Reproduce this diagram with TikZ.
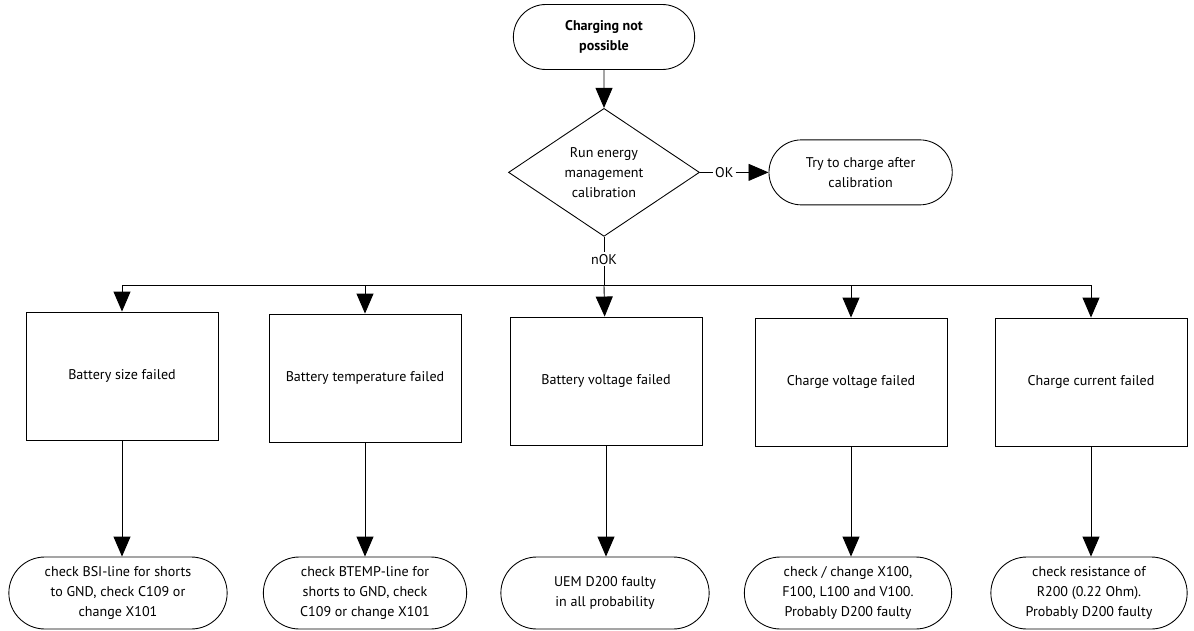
\documentclass[tikz,border=0pt]{standalone}
\usepackage{fontspec}
\setmainfont{PT Sans}
\usetikzlibrary{arrows.meta,positioning,shapes.geometric,shapes.misc}

\begin{document}
\begin{tikzpicture}[node distance=0.8cm, font=\fontsize{8}{11.5}\selectfont, line width=0.5pt,
        >={Triangle[width=0.34cm,length=0.4cm]}]
        \tikzstyle{term}=[draw, rounded rectangle, align=center, minimum height=1.3cm]
        \tikzstyle{decide}=[draw, diamond, aspect=1.5, inner sep=0pt, minimum width=3.82cm, minimum height=2.56cm, align=center]
        \tikzstyle{check}=[draw, rectangle, minimum width=3.84cm, minimum height=2.56cm, align=center]
        \tikzstyle{fix}=[draw, rounded rectangle, align=center, minimum height=1.44cm]
        \tikzstyle{lbl}=[inner sep=1pt]

        \useasboundingbox (0,0) rectangle (23.88,-12.62);

        \node[term, minimum width=3.86cm, font=\fontsize{8}{11.5}\selectfont\bfseries] (start) at (12.08,-0.74) {Charging not\\possible};
        \node[decide] (cal) [below=0.76cm of start] {Run energy\\management\\calibration};
        \node[lbl] (ok) [right=0.26cm of cal] {OK};
        \node[term, minimum width=3.9cm] (try) [right=0.66cm of ok] {Try to charge after\\calibration};
        \node[lbl] (nok) [below=0.3cm of cal] {nOK};
        \coordinate (bus) at (cal |- 0,-5.70);

        \node[check] (b1) at (2.44,-7.52) {Battery size failed};
        \node[check] (b2) at (7.30,-7.56) {Battery temperature failed};
        \node[check] (b3) at (12.12,-7.62) {Battery voltage failed};
        \node[check] (b4) at (17.02,-7.64) {Charge voltage failed};
        \node[check] (b5) at (21.82,-7.64) {Charge current failed};

        \node[fix, minimum width=4.6cm] (f1) at (2.36,-11.86) {check BSI-line for shorts\\to GND, check C109 or\\change X101};
        \node[fix, minimum width=4.3cm] (f2) at (7.30,-11.86) {check BTEMP-line for\\shorts to GND, check\\C109 or change X101};
        \node[fix, minimum width=4.4cm] (f3) at (12.10,-11.86) {UEM D200 faulty\\in all probability};
        \node[fix, minimum width=4.38cm] (f4) at (16.96,-11.86) {check / change X100,\\F100, L100 and V100.\\Probably D200 faulty};
        \node[fix, minimum width=4.16cm] (f5) at (21.78,-11.86) {check resistance of\\R200 (0.22 Ohm).\\Probably D200 faulty};

        \draw[->] (start) -- (cal);
        \draw (cal.east) -- (ok);
        \draw[->] (ok) -- (try);
        \draw (cal.south) -- (nok);
        \draw (nok) -- (bus);

        \draw[->] (bus) -| (b1);
        \draw[->] (bus) -| (b2);
        \draw[->] (bus) -- (b3);
        \draw[->] (bus) -| (b4);
        \draw[->] (bus) -| (b5);

        \draw[->] (b1) -- (b1 |- f1.north);
        \draw[->] (b2) -- (b2 |- f2.north);
        \draw[->] (b3) -- (b3 |- f3.north);
        \draw[->] (b4) -- (b4 |- f4.north);
        \draw[->] (b5) -- (b5 |- f5.north);

    \end{tikzpicture}
\end{document}
